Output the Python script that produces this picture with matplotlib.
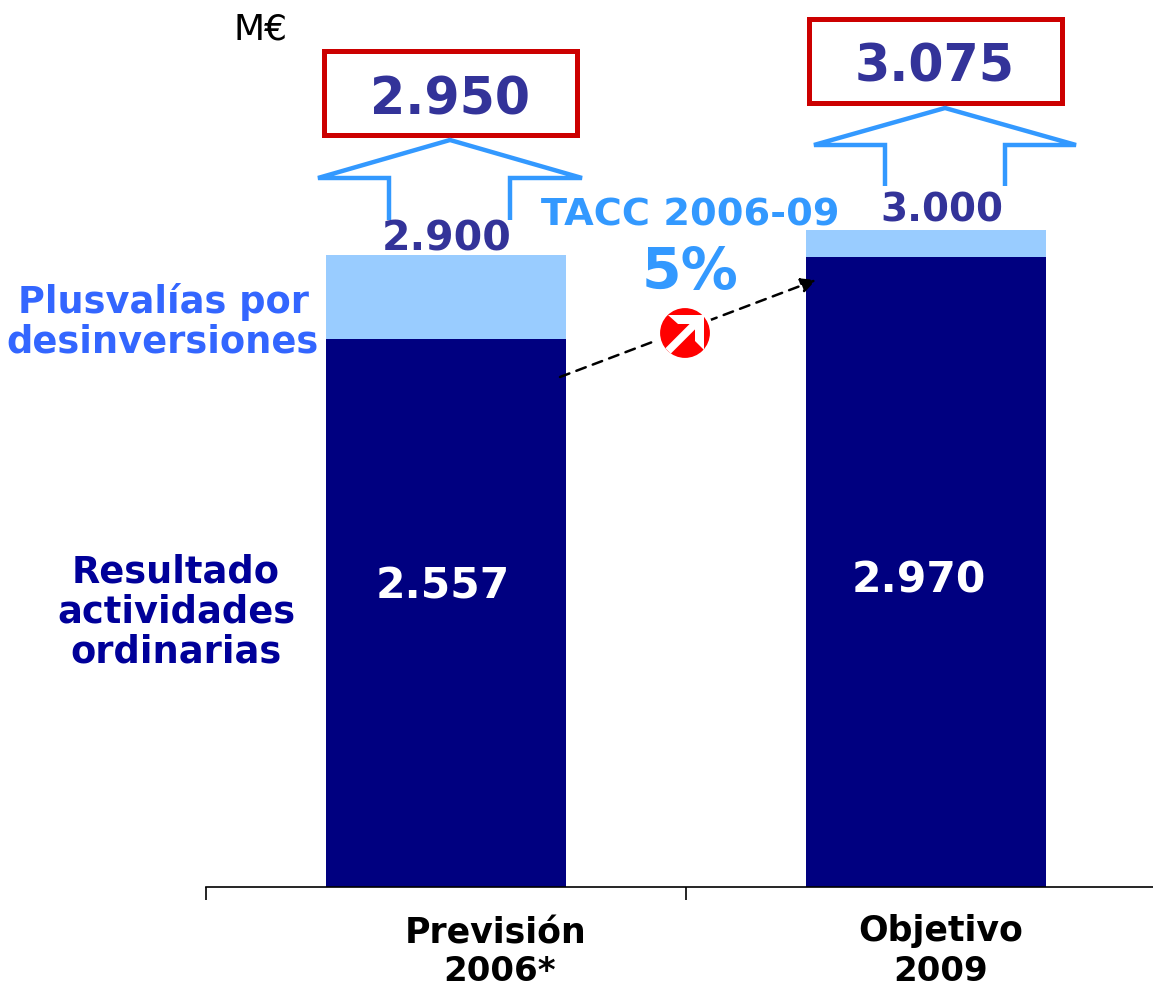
import matplotlib
matplotlib.use("Agg")
import matplotlib.pyplot as plt
from matplotlib.patches import Circle, Rectangle, Polygon

categories = ["Previsión\n2006*", "Objetivo\n2009"]
# heights as drawn in the picture, the bars are not quite to scale with their labels
ordinarias = [2557, 2940]
plusvalias = [392, 126]
bar_labels = ["2.557", "2.970"]
subtotal_labels = ["2.900", "3.000"]
total_labels = ["2.950", "3.075"]

W, H = 1153, 986
navy = "#000080"
light = "#99CCFF"
sky = "#3399FF"
indigo = "#333399"
red = "#CC0000"

plt.rcParams["font.family"] = "DejaVu Sans"
fig = plt.figure(figsize=(W / 100, H / 100), dpi=100)

ax = fig.add_axes([206 / W, (H - 887) / H, (W - 206) / W, 887 / H])
ax.bar([0, 1], ordinarias, width=0.5, color=navy)
ax.bar([0, 1], plusvalias, width=0.5, bottom=ordinarias, color=light)
ax.set_xticks([-0.5, 0.5])
ax.set_xticklabels([])
ax.set_yticks([])
# limits after the ticks, otherwise the ticks stretch them
ax.set_xlim(-0.5, -0.5 + (W - 206) / 480)
ax.set_ylim(0, 887 / 0.2143)
ax.tick_params(axis="x", length=9, width=1.2, color="black")
for s in ["top", "left", "right"]:
    ax.spines[s].set_visible(False)
ax.spines["bottom"].set_linewidth(1.2)
ax.patch.set_alpha(0)

# overlay in pixel coordinates for the annotations
ov = fig.add_axes([0, 0, 1, 1])
ov.set_xlim(0, W)
ov.set_ylim(H, 0)
ov.axis("off")


def label(x, y, s, size, color="black", bold=True):
    ov.text(x, y, s, fontsize=size, color=color, ha="center", va="center_baseline",
            fontweight="bold" if bold else "normal")


label(261, 26, "M€", 26, "black", False)

# totals in red boxes
for (x0, y0), t, tx, ty, fs in zip([(324, 51), (809, 19)], total_labels,
                                   [450, 935], [95, 62], [36.5, 36.5]):
    ov.add_patch(Rectangle((x0, y0), 253, 84, fill=False, ec=red, lw=3.6))
    label(tx, ty, t, fs, indigo)

# open block arrows
for pts in [[(389, 220), (389, 178), (318, 178), (450, 140), (582, 178), (510, 178), (510, 220)],
            [(885, 186), (885, 145), (814, 145), (945, 108), (1076, 145), (1005, 145), (1005, 186)]]:
    ov.add_patch(Polygon(pts, closed=False, fill=False, ec=sky, lw=3.2, joinstyle="miter"))

label(447, 235, subtotal_labels[0], 29.5, indigo)
label(942, 206, subtotal_labels[1], 28, indigo)
label(443, 582, bar_labels[0], 30.5, "white")
label(919, 576, bar_labels[1], 30.5, "white")

label(690, 212, "TACC 2006-09", 27.5, sky)
label(690, 267, "5%", 41, sky)

label(163, 298, "Plusvalías por", 26.5, "#3366FF")
label(163, 338, "desinversiones", 26.5, "#3366FF")
label(176, 568, "Resultado", 26.5, "#000099")
label(176, 608, "actividades", 26.5, "#000099")
label(176, 648, "ordinarias", 26.5, "#000099")

label(496, 930, "Previsión", 25)
label(500, 968, "2006*", 24.5)
label(941, 927, "Objetivo", 25)
label(941, 968, "2009", 24.5)

# trend arrow with the round badge on top
ov.annotate("", xy=(816, 280), xytext=(560, 377),
            arrowprops=dict(arrowstyle="-|>", ls=(0, (4, 3)), lw=1.8, color="black",
                            mutation_scale=22, shrinkA=0, shrinkB=0))
ov.add_patch(Circle((685, 333), 27, fc="red", ec="white", lw=3, zorder=5))
ov.plot([668, 698], [351, 321], color="white", lw=5.5, solid_capstyle="butt", zorder=6)
ov.add_patch(Polygon([(668, 315), (704, 315), (704, 350), (695, 341), (695, 324), (678, 324)],
                     fc="white", ec="none", zorder=6))

fig.savefig("out.png", dpi=100, facecolor="white")
